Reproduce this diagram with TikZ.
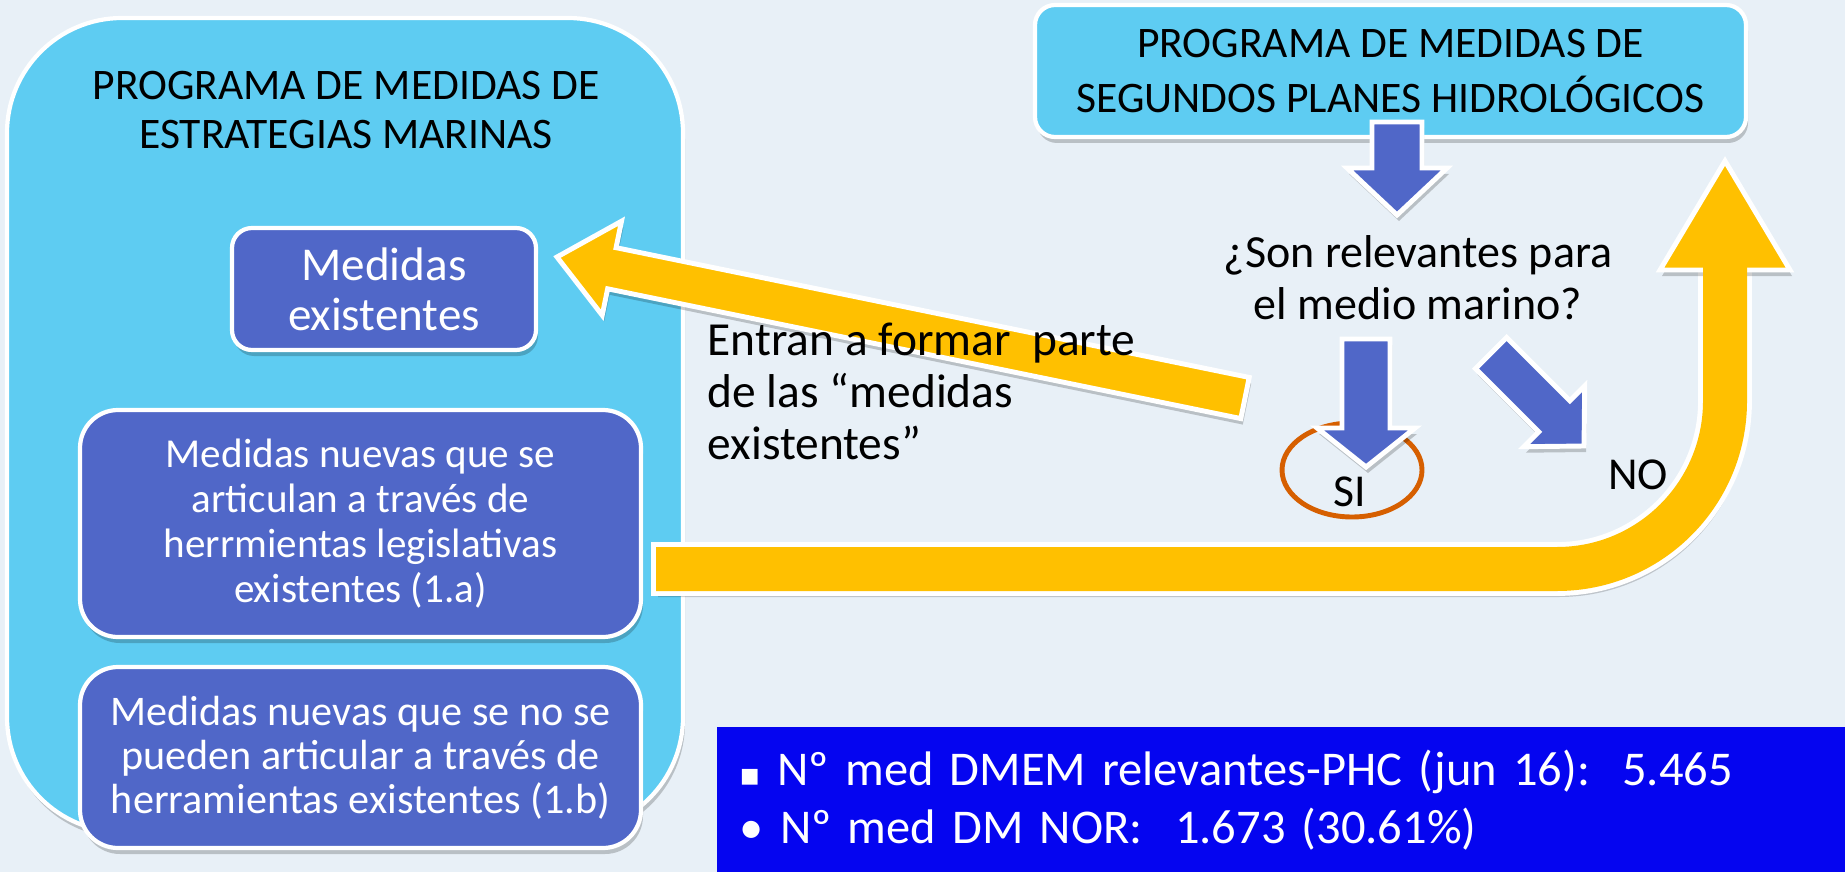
\documentclass[tikz,border=0pt]{standalone}
\usepackage{fontspec}
\setmainfont{Carlito}
\newfontfamily\symbfont{DejaVu Sans}
\usepackage{xcolor}
\usepackage{tikz}
\usetikzlibrary{shapes.geometric, calc, shadows}

\definecolor{fondo}{RGB}{232,240,247}
\definecolor{celeste}{RGB}{94,204,242}
\definecolor{azulcaja}{RGB}{80,103,200}
\definecolor{amarillo}{RGB}{255,192,0}
\definecolor{naranja}{RGB}{214,95,0}
\definecolor{azuldatos}{RGB}{5,5,240}

% block arrow: [style]{tail}{tip}{half shaft}{half head}{head length}
\newcommand{\fatarrow}[6][]{%
  \coordinate (neck) at ($(#3)!#6!(#2)$);
  \draw[#1] ($(#2)!#4!90:(#3)$) -- ($(neck)!#4!90:(#3)$) -- ($(neck)!#5!90:(#3)$) -- (#3)
    -- ($(neck)!#5!-90:(#3)$) -- ($(neck)!#4!-90:(#3)$) -- ($(#2)!#4!-90:(#3)$) -- cycle;
}

\begin{document}
\begin{tikzpicture}[
    sombra/.style={drop shadow={shadow xshift=0.02cm, shadow yshift=-0.06cm, opacity=0.2, fill=black}},
    bigbox/.style={rectangle, fill=celeste, draw=white, line width=1.2pt, rounded corners=1.15cm, sombra},
    topbox/.style={rectangle, fill=celeste, draw=white, line width=1.2pt, rounded corners=0.2cm, align=center, sombra},
    subbox/.style={rectangle, fill=azulcaja, draw=white, line width=1.2pt, align=center, text=white, inner sep=0pt, sombra},
    rotulo/.style={inner sep=0pt, align=center},
    blockblue/.style={fill=azulcaja, draw=white, line width=1.4pt, sombra},
    blockyellow/.style={fill=amarillo, draw=white, line width=1.4pt, sombra}
]
    \useasboundingbox (0,0) rectangle (18.45,-8.72);
    \fill[fondo] (0,0) rectangle (18.45,-8.72);

    \node[bigbox, minimum width=6.76cm, minimum height=8.14cm] (estrategias) at (3.45,-4.25) {};
    \node[rotulo, font=\fontsize{12.4}{14.2}\selectfont] (estrategias-titulo) at (3.46,-1.10) {PROGRAMA DE MEDIDAS DE\\ESTRATEGIAS MARINAS};

    \node[subbox, rounded corners=0.2cm, minimum width=3.04cm, minimum height=1.22cm, font=\fontsize{13.4}{14.2}\selectfont] (existentes) at (3.84,-2.89) {Medidas\\existentes};
    \node[subbox, rounded corners=0.38cm, minimum width=5.61cm, minimum height=2.27cm, font=\fontsize{11.7}{12.8}\selectfont] (nuevas-a) at (3.605,-5.235) {Medidas nuevas que se\\articulan a través de\\herrmientas legislativas\\existentes (1.a)};
    \node[subbox, rounded corners=0.38cm, minimum width=5.61cm, minimum height=1.81cm, font=\fontsize{12}{12.5}\selectfont] (nuevas-b) at (3.605,-7.575) {Medidas nuevas que se no se\\pueden articular a través de\\herramientas existentes (1.b)};

    \node[topbox, minimum width=7.11cm, minimum height=1.32cm, font=\fontsize{12.4}{15.4}\selectfont] (planes) at (13.905,-0.71) {PROGRAMA DE MEDIDAS DE\\SEGUNDOS PLANES HIDROLÓGICOS};

    \node[rotulo, font=\fontsize{13.1}{14.8}\selectfont] (pregunta) at (14.18,-2.78) {¿Son relevantes para\\el medio marino?};

    % arrow back to the existing measures
    \coordinate (entra-cola) at (12.45,-3.98);
    \coordinate (entra-punta) at (5.57,-2.57);
    \fatarrow[blockyellow]{entra-cola}{entra-punta}{0.21cm}{0.48cm}{0.56cm}

    \node[rotulo, anchor=west, align=left, font=\fontsize{13.5}{14.7}\selectfont] (entran) at (7.07,-3.915) {Entran a formar\ \ parte\\de las “medidas\\existentes”};

    \coordinate (planes-cola) at (13.97,-1.22);
    \coordinate (planes-punta) at (13.97,-2.15);
    \fatarrow[blockblue]{planes-cola}{planes-punta}{0.25cm}{0.50cm}{0.47cm}

    \node[ellipse, draw=naranja, line width=1.4pt, minimum width=1.40cm, minimum height=0.94cm, inner sep=0pt] (si-marca) at (13.52,-4.70) {};
    \coordinate (si-cola) at (13.66,-3.39);
    \coordinate (si-punta) at (13.66,-4.67);
    \fatarrow[blockblue]{si-cola}{si-punta}{0.24cm}{0.49cm}{0.39cm}
    \node[rotulo, font=\fontsize{13}{14}\selectfont] (si) at (13.50,-4.92) {SI};

    \coordinate (no-cola) at (14.91,-3.53);
    \coordinate (no-punta) at (15.84,-4.46);
    \fatarrow[blockblue]{no-cola}{no-punta}{0.22cm}{0.43cm}{0.42cm}

    % bent arrow from the new measures up past the hydrological plans
    \coordinate (vuelta-cola) at (6.56,-5.69);
    \coordinate (vuelta-giro) at (17.25,-5.69);
    \coordinate (vuelta-cuello) at (17.25,-2.70);
    \coordinate (vuelta-punta) at (17.25,-1.61);
    \draw[black, opacity=0.18, line width=0.44cm, rounded corners=1.68cm] ([shift={(0.02,-0.06)}]vuelta-cola) -- ([shift={(0.02,-0.06)}]vuelta-giro) -- ([shift={(0.02,-0.06)}]vuelta-cuello);
    \draw[white, line width=0.44cm+2.8pt, rounded corners=1.68cm] ([xshift=-1.4pt]vuelta-cola) -- (vuelta-giro) -- (vuelta-cuello);
    \draw[blockyellow] ($(vuelta-cuello)+(-0.65,0)$) -- (vuelta-punta) -- ($(vuelta-cuello)+(0.65,0)$) -- cycle;
    \draw[amarillo, line width=0.44cm, rounded corners=1.68cm] (vuelta-cola) -- (vuelta-giro) -- ([yshift=3pt]vuelta-cuello);

    \node[rotulo, font=\fontsize{13}{14}\selectfont] (no) at (16.38,-4.75) {NO};

    \node[rectangle, fill=azuldatos, anchor=north west, minimum width=11.29cm, minimum height=1.46cm, text width=10.83cm, inner xsep=0.23cm, align=left, text=white, font=\fontsize{13.8}{16.5}\selectfont] (datos) at (7.16,-7.26) {{\symbfont\fontsize{9}{9}\selectfont ▪}\ Nº med DMEM relevantes-PHC (jun 16):\ \ 5.465\\• Nº med DM NOR:\ \ 1.673 (30.61\%)};
\end{tikzpicture}
\end{document}
